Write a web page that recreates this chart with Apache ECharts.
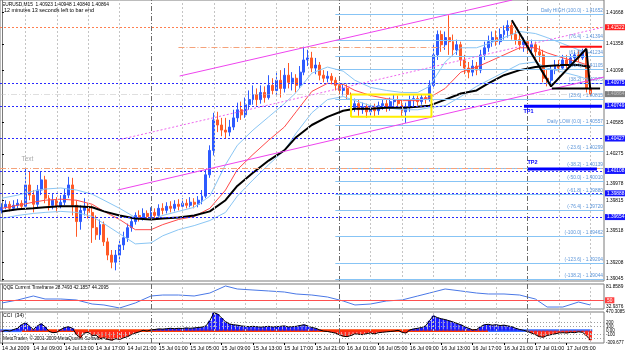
<!DOCTYPE html>
<html><head><meta charset="utf-8">
<script src="https://cdn.jsdelivr.net/npm/echarts@6.0.0/dist/echarts.min.js"></script>
<style>html,body{margin:0;padding:0;background:#fff;overflow:hidden}#chart{width:625px;height:352px}</style>
</head><body><div id="chart"></div>
<script>
// ---------------- DATA ----------------
const symbolName = 'EURUSD,M15';
const barOpen = [
1.3972,1.3975,1.3978,1.3974,1.3977,1.3979,1.3976,1.3997,1.3987,1.3978,
1.3992,1.4002,1.3984,1.3977,1.3982,1.3976,1.3980,1.3987,1.3997,1.3977,
1.3961,1.3972,1.3976,1.3970,1.3955,1.3948,1.3958,1.3941,1.3928,1.3921,
1.3928,1.3938,1.3945,1.3955,1.3961,1.3967,1.3964,1.3969,1.3966,1.3970,
1.3967,1.3974,1.3972,1.3976,1.3974,1.3978,1.3976,1.3979,1.3977,1.3980,
1.3978,1.3982,1.3986,1.4007,1.4031,1.4061,1.4056,1.4051,1.4049,1.4054,
1.4063,1.4071,1.4066,1.4076,1.4081,1.4086,1.4081,1.4088,1.4083,1.4095,
1.4090,1.4100,1.4092,1.4105,1.4098,1.4102,1.4095,1.4108,1.4120,1.4122,
1.4112,1.4115,1.4105,1.4102,1.4104,1.4100,1.4095,1.4090,1.4092,1.4086,
1.4073,1.4077,1.4071,1.4074,1.4069,1.4073,1.4070,1.4075,1.4077,1.4073,
1.4079,1.4081,1.4077,1.4069,1.4073,1.4081,1.4082,1.4079,1.4083,1.4081,
1.4095,1.4125,1.4145,1.4135,1.4142,1.4138,1.4130,1.4135,1.4120,1.4112,
1.4108,1.4114,1.4110,1.4125,1.4132,1.4138,1.4142,1.4138,1.4145,1.4149,
1.4154,1.4145,1.4140,1.4135,1.4138,1.4132,1.4135,1.4128,1.4125,1.4102,
1.4100,1.4110,1.4115,1.4112,1.4120,1.4116,1.4122,1.4125,1.4122,1.4128,
1.40923];
const barHigh = [
1.3979,1.3982,1.3981,1.3982,1.3983,1.3982,1.4014,1.4010,1.3992,1.3997,
1.4010,1.4006,1.3987,1.3988,1.3985,1.3987,1.3994,1.4005,1.4004,1.3982,
1.3977,1.3984,1.3979,1.3977,1.3967,1.3963,1.3961,1.3945,1.3933,1.3933,
1.3943,1.3951,1.3959,1.3964,1.3970,1.3972,1.3974,1.3972,1.3975,1.3974,
1.3978,1.3979,1.3980,1.3981,1.3982,1.3983,1.3984,1.3983,1.3985,1.3984,
1.3986,1.3992,1.4012,1.4036,1.4068,1.4069,1.4063,1.4063,1.4061,1.4071,
1.4078,1.4079,1.4083,1.4090,1.4095,1.4092,1.4095,1.4094,1.4105,1.4102,
1.4108,1.4110,1.4112,1.4117,1.4108,1.4106,1.4114,1.4133,1.4130,1.4128,
1.4122,1.4118,1.4110,1.4109,1.4107,1.4103,1.4098,1.4097,1.4096,1.4088,
1.4082,1.4081,1.4078,1.4077,1.4077,1.4077,1.4079,1.4081,1.4081,1.4083,
1.4086,1.4085,1.4081,1.4078,1.4085,1.4085,1.4085,1.4086,1.4085,1.4100,
1.4135,1.4149,1.4149,1.4148,1.4164,1.4145,1.4140,1.4138,1.4125,1.4118,
1.4120,1.4118,1.4130,1.4138,1.4144,1.4148,1.4149,1.4151,1.4154,1.4159,
1.4157,1.4149,1.4145,1.4142,1.4142,1.4140,1.4138,1.4134,1.4130,1.4110,
1.4115,1.4120,1.4120,1.4125,1.4125,1.4126,1.4128,1.4130,1.4131,1.4130,
1.40948];
const barLow = [
1.3969,1.3973,1.3971,1.3972,1.3974,1.3973,1.3974,1.3982,1.3970,1.3975,
1.3987,1.3979,1.3972,1.3973,1.3970,1.3974,1.3977,1.3984,1.3967,1.3946,
1.3953,1.3967,1.3964,1.3940,1.3943,1.3943,1.3937,1.3923,1.3915,1.3913,
1.3921,1.3933,1.3941,1.3951,1.3958,1.3961,1.3962,1.3963,1.3963,1.3964,
1.3964,1.3968,1.3969,1.3970,1.3971,1.3972,1.3973,1.3974,1.3975,1.3974,
1.3975,1.3978,1.3984,1.4004,1.4026,1.4049,1.4045,1.4043,1.4045,1.4051,
1.4059,1.4061,1.4063,1.4071,1.4076,1.4075,1.4077,1.4078,1.4081,1.4086,
1.4085,1.4083,1.4088,1.4092,1.4090,1.4088,1.4092,1.4105,1.4114,1.4108,
1.4106,1.4100,1.4098,1.4098,1.4096,1.4090,1.4086,1.4085,1.4081,1.4067,
1.4069,1.4065,1.4067,1.4063,1.4065,1.4064,1.4066,1.4071,1.4069,1.4070,
1.4075,1.4073,1.4065,1.4058,1.4069,1.4073,1.4075,1.4076,1.4077,1.4079,
1.4092,1.4120,1.4128,1.4130,1.4125,1.4124,1.4125,1.4114,1.4106,1.4102,
1.4104,1.4105,1.4107,1.4120,1.4128,1.4133,1.4134,1.4135,1.4140,1.4142,
1.4140,1.4135,1.4130,1.4128,1.4127,1.4125,1.4122,1.4118,1.4098,1.4094,
1.4095,1.4106,1.4108,1.4110,1.4112,1.4113,1.4118,1.4118,1.4120,1.4088,
1.40840];
const barClose = [
1.3975,1.3978,1.3974,1.3977,1.3979,1.3976,1.3997,1.3987,1.3978,1.3992,
1.4002,1.3984,1.3977,1.3982,1.3976,1.3980,1.3987,1.3997,1.3977,1.3961,
1.3972,1.3976,1.3970,1.3955,1.3948,1.3958,1.3941,1.3928,1.3921,1.3928,
1.3938,1.3945,1.3955,1.3961,1.3967,1.3964,1.3969,1.3966,1.3970,1.3967,
1.3974,1.3972,1.3976,1.3974,1.3978,1.3976,1.3979,1.3977,1.3980,1.3978,
1.3982,1.3986,1.4007,1.4031,1.4061,1.4056,1.4051,1.4049,1.4054,1.4063,
1.4071,1.4066,1.4076,1.4081,1.4086,1.4081,1.4088,1.4083,1.4095,1.4090,
1.4100,1.4092,1.4105,1.4098,1.4102,1.4095,1.4108,1.4120,1.4122,1.4112,
1.4115,1.4105,1.4102,1.4104,1.4100,1.4095,1.4090,1.4092,1.4086,1.4073,
1.4077,1.4071,1.4074,1.4069,1.4073,1.4070,1.4075,1.4077,1.4073,1.4079,
1.4081,1.4077,1.4069,1.4073,1.4081,1.4082,1.4079,1.4083,1.4081,1.4095,
1.4125,1.4145,1.4135,1.4142,1.4138,1.4130,1.4135,1.4120,1.4112,1.4108,
1.4114,1.4110,1.4125,1.4132,1.4138,1.4142,1.4138,1.4145,1.4149,1.4154,
1.4145,1.4140,1.4135,1.4138,1.4132,1.4135,1.4128,1.4125,1.4102,1.4100,
1.4110,1.4115,1.4112,1.4120,1.4116,1.4122,1.4125,1.4122,1.4128,1.4092,
1.40864];

// indicator samples (bar index -> value)
const maIdx = [0,4,8,11,15,19,23,26,30,34,38,41,45,49,53,57,60,64,68,72,75,79,83,87,90,94,98,102,106,109,113,117,121,124,128,132,136,139,143,147,150];
const maSlow = [1.3971,1.3973,1.3974,1.3975,1.3976,1.3976,1.3975,1.3971,1.3967,1.3964,1.3963,1.3964,1.3965,1.3967,1.3971,1.3982,1.3996,1.4009,1.4021,1.4031,1.4044,1.4056,1.4064,1.4070,1.4072,1.4072,1.4073,1.4073,1.4074,1.4075,1.4081,1.4087,1.4090,1.4097,1.4105,1.4110,1.4113,1.4114,1.4115,1.4115,1.4113];
const maMid = [1.3974,1.3977,1.3980,1.3982,1.3983,1.3982,1.3978,1.3971,1.3963,1.3953,1.3953,1.3958,1.3963,1.3966,1.3974,1.3992,1.4012,1.4027,1.4041,1.4054,1.4069,1.4089,1.4097,1.4096,1.4090,1.4085,1.4082,1.4080,1.4080,1.4083,1.4092,1.4108,1.4113,1.4118,1.4125,1.4132,1.4132,1.4127,1.4122,1.4118,1.4114];
const bandUp = [1.3984,1.3987,1.3991,1.3993,1.3994,1.3992,1.3988,1.3982,1.3974,1.3965,1.3963,1.3967,1.3971,1.3975,1.3986,1.4017,1.4036,1.4051,1.4064,1.4077,1.4088,1.4107,1.4113,1.4109,1.4100,1.4093,1.4090,1.4088,1.4088,1.4094,1.4118,1.4132,1.4132,1.4136,1.4142,1.4148,1.4146,1.4142,1.4136,1.4130,1.4127];
const bandDn = [1.3964,1.3967,1.3969,1.3970,1.3971,1.3970,1.3966,1.3959,1.3949,1.3939,1.3940,1.3947,1.3953,1.3957,1.3962,1.3970,1.3986,1.4002,1.4017,1.4031,1.4048,1.4068,1.4081,1.4084,1.4080,1.4075,1.4073,1.4071,1.4071,1.4073,1.4075,1.4084,1.4094,1.4100,1.4108,1.4116,1.4118,1.4112,1.4108,1.4104,1.4100];
const qqe = [44.7,50.6,58.4,52.5,52.5,50.6,42.7,40.8,34.9,44.7,58.4,60.3,60.3,58.4,64.2,78.0,72.1,70.1,68.2,66.2,62.3,60.3,56.4,48.6,40.8,42.7,48.6,50.6,58.4,64.2,72.1,68.2,64.2,62.3,62.3,60.3,52.5,36.8,36.8,46.6,40.8];
const cci = [-20,10,-10,30,60,150,200,120,
30,
120,175,100,-20,-50,-40,30,80,100,60,-100,-175,-60,-40,-120,
-115,
-200,-180,-220,-240,-200,-220,-180,-150,-100,-60,-30,10,-10,20,30,
45,
40,50,60,50,60,55,70,60,70,80,90,120,250,450,420,320,
225,
170,150,140,120,110,100,110,100,90,100,110,95,100,110,120,
95,
100,110,130,150,120,80,60,20,-10,-20,-40,-60,-100,-140,-150,
-120,
-80,-90,-100,-70,-60,-80,-50,-40,-30,-20,-10,10,-40,-60,20,
45,
60,80,120,250,375,330,300,280,250,220,180,150,100,60,20,30,
100,
150,160,140,150,130,140,120,100,60,30,10,-20,-60,-100,-150,
-165,
-120,-100,-80,-60,-50,-60,-40,-50,-30,-40,-120,-240];
const cciBlueBand = [[-0.5,5],[124,150.5]];
const cciRedBand = [[5,124]];

// axis ticks
const xTickPos = [0,8,16,24,32,40,48,56,64,72,80,88,96,104,112,120,128,136,144];
const xTickLabels = ['14 Jul 2009','14 Jul 09:00','14 Jul 13:00','14 Jul 17:00','14 Jul 21:00','15 Jul 01:00','15 Jul 05:00','15 Jul 09:00','15 Jul 13:00','15 Jul 17:00','15 Jul 21:00','16 Jul 01:00','16 Jul 05:00','16 Jul 09:00','16 Jul 13:00','16 Jul 17:00','16 Jul 21:00','17 Jul 01:00','17 Jul 05:00'];
const gridLinePos = [6,14,22,30,46,54,62,70,78,94,102,110,118,126,142,150];
const daySepPos = [38,86,134];
const yTicks = [1.41668,1.41358,1.41098,1.40585,1.40275,1.39978,1.39815,1.39518,1.39208,1.39045];
const qqeTicks = [81.8589,32.9376];
const cciTicks = [470.3085,200,100,0,-100,-309.677];

// levels / objects (price units, bar-index units)
const fibNames = ['Daily HIGH (100.0)','(76.4)','(61.8)','(50.0)','(38.2)','(23.6)','Daily LOW (0.0)','(-23.6)','(-38.2)','(-50.0)','(-61.8)','(-76.4)','(-100.0)','(-123.6)','(-138.2)'];
const fibPrices = [1.41652,1.41394,1.41234,1.41105,1.40975,1.40815,1.40557,1.40299,1.40139,1.40010,1.39880,1.39720,1.39462,1.39204,1.39044];
const fibStartBar = 85;
const blueLevels = [1.40975,1.40749,1.40427,1.40108,1.39888,1.39654];
const resistLevel = 1.41522;
const supportLevel = 1.40137;
const spikeLevel = [[45,1.41327],[113,1.41327]];
const bidPrice = 1.40864;
const askBoxPrice = 1.41197;
const chanUpper = [[45.3,1.41042],[130.1,1.4179]];
const chanLower = [[29.5,1.39920],[153.5,1.41032]];
const chanMid = [[29.5,1.40412],[153.5,1.41524]];
const zigzag = [[130,1.4159],[140,1.4094],[149,1.4131],[150,1.4091]];
const hLineBlack = [[140.2,1.4092],[152.5,1.4092]];
const hLineRed = [[142.3,1.4133],[153,1.4133]];
const tp1 = [[133.1,1.40745],[153,1.40745]];
const tp2 = [[134.1,1.40128],[151.7,1.40128]];
const yellowBox = [[89,1.4086],[109.5,1.4086],[109.5,1.4064],[89,1.4064],[89,1.4086]];
const textMark = [5.1,1.4022];

// ---------------- CHART ----------------
const FONT = 'Liberation Sans, Arial, sans-serif';
const SLOTS = 154;   // 151 bars + chart shift space
const barTimes = [];
(function(){ let t = Date.UTC(2009,6,14,5,0); for (let i=0;i<SLOTS;i++){ const d=new Date(t+i*1800000); barTimes.push(d.getUTCDate()+' Jul '+String(d.getUTCHours()).padStart(2,'0')+':'+String(d.getUTCMinutes()).padStart(2,'0')); } })();
const XMAX = SLOTS - 0.5;
const ml = o => Object.assign({symbol:['none','none'], silent:true, animation:false, precision:6}, o);
const noSym = {symbol:'none', showSymbol:false, silent:true, animation:false};
function gridLines(xi, yi){
  return [
    Object.assign({type:'line', xAxisIndex:xi, yAxisIndex:yi, data:[], z:1,
      markLine: ml({label:{show:false}, lineStyle:{color:'#c4c4c4', type:[2,2], width:1}, data: gridLinePos.map(x=>({xAxis:x}))})}, noSym),
    Object.assign({type:'line', xAxisIndex:xi, yAxisIndex:yi, data:[], z:1,
      markLine: ml({label:{show:false}, lineStyle:{color:'#6a6a6a', type:[5,2,1,2], width:1}, data: daySepPos.map(x=>({xAxis:x}))})}, noSym)
  ];
}
function pline(data, color, width, type, z, extra){
  return Object.assign({type:'line', xAxisIndex:1, yAxisIndex:0, data:data, z:z||5,
    lineStyle:{color:color, width:width, type:type||'solid'}}, noSym, extra||{});
}
const boxLabel = (bg, fg, txt) => ({show:true, position:'end', distance:1, formatter:txt, backgroundColor:bg, color:fg, padding:[1,2,0,2], fontSize:4.8, fontFamily:FONT});
const hidden = {color:'transparent', opacity:1};

const series = [];
series.push(...gridLines(1,0), ...gridLines(2,1), ...gridLines(4,2));

// fibonacci levels
series.push(Object.assign({type:'line', xAxisIndex:1, yAxisIndex:0, data:[], z:2,
  markLine: ml({lineStyle:{color:'#87c4f5', width:1, type:'solid'},
    label:{show:true, position:'insideEndTop', formatter:'{b}', color:'#5a94d8', fontSize:4.8, fontFamily:FONT, distance:1},
    data: fibPrices.map((p,i)=>[{name: fibNames[i]+' - '+p.toFixed(5), coord:[fibStartBar,p]},{coord:[XMAX,p]}])})}, noSym));
// blue dotted levels with boxes
series.push(Object.assign({type:'line', xAxisIndex:1, yAxisIndex:0, data:[], z:2,
  markLine: ml({lineStyle:{color:'#2a2aff', width:1, type:[2,2]},
    data: blueLevels.map(p=>({yAxis:p, label: boxLabel('#1515ff','#fff', p.toFixed(5))}))})}, noSym));
// salmon lines, bid, ask box
series.push(Object.assign({type:'line', xAxisIndex:1, yAxisIndex:0, data:[], z:2,
  markLine: ml({data:[
    {yAxis:resistLevel, lineStyle:{color:'#ff7f50', width:1, type:[2,2]}, label: boxLabel('#ff2020','#fff', resistLevel.toFixed(5))},
    {yAxis:supportLevel, lineStyle:{color:'#f5a27a', width:1, type:[6,2,1,2]}, label:{show:false}},
    [{coord:spikeLevel[0], lineStyle:{color:'#f5a27a', width:1, type:[6,2,1,2]}, label:{show:false}},{coord:spikeLevel[1]}],
    {yAxis:bidPrice, lineStyle:{color:'#c0c0c0', width:1, type:[6,2,1,2], opacity:0.5}, label: boxLabel('#000','#fff', bidPrice.toFixed(5))},
    {yAxis:askBoxPrice, lineStyle:{opacity:0}, label: boxLabel('#8ccdf5','#fff', askBoxPrice.toFixed(5))}
  ]})}, noSym));

// candles
series.push({type:'candlestick', xAxisIndex:0, yAxisIndex:0, z:3, silent:true, animation:false,
  barWidth:'62%', barMaxWidth:3,
  itemStyle:{color:'#2d5bff', color0:'#ff5a26', borderColor:'#2d5bff', borderColor0:'#ff5a26', borderWidth:1},
  data: barOpen.map((o,i)=>[o, barClose[i], barLow[i], barHigh[i]])
});

// moving averages / bands
const pairs = arr => maIdx.map((x,k)=>[x, arr[k]]);
series.push(pline(pairs(bandUp), '#8ac6f4', 1, 'solid', 4));
series.push(pline(pairs(bandDn), '#8ac6f4', 1, 'solid', 4));
series.push(pline(pairs(maMid), '#ff4a4a', 1, 'solid', 4));
series.push(pline(pairs(maSlow), '#000000', 2, 'solid', 4));

// channels & drawn objects
series.push(pline(chanUpper, '#ee44ee', 1, 'solid', 5));
series.push(pline(chanLower, '#ee44ee', 1, 'solid', 5));
series.push(pline(chanMid, '#ee66ee', 1, [2,2], 5));
series.push(pline(yellowBox, '#ffee00', 2, 'solid', 6));
series.push(pline(zigzag, '#000000', 2, 'solid', 6));
series.push(pline(hLineBlack, '#000000', 2, 'solid', 6));
series.push(pline(hLineRed, '#ff1010', 2, 'solid', 6));
series.push(pline(tp1, '#0000ff', 3, 'solid', 6));
series.push(pline(tp2, '#0000ff', 3, 'solid', 6));
// text annotations anchored at data points
series.push({type:'scatter', xAxisIndex:1, yAxisIndex:0, z:7, silent:true, animation:false, symbolSize:1, itemStyle:hidden,
  data:[
    {value:tp1[0], label:{show:true, formatter:'TP1', position:[0,3], align:'left', verticalAlign:'top', color:'#0000ff', fontWeight:'bold', fontSize:5.5, fontFamily:FONT}},
    {value:tp2[0], label:{show:true, formatter:'TP2', position:[0,-3], align:'left', verticalAlign:'bottom', color:'#0000ff', fontWeight:'bold', fontSize:5.5, fontFamily:FONT}},
    {value:textMark, label:{show:true, formatter:'Text', position:[0,0], align:'left', verticalAlign:'middle', color:'#a8a8a8', fontSize:6.5, fontFamily:FONT}}
  ]});

// QQE
series.push(Object.assign({type:'line', xAxisIndex:2, yAxisIndex:1, z:4, data: maIdx.map((x,k)=>[x,qqe[k]]),
  lineStyle:{color:'#4a78e6', width:1},
  markLine: ml({data:[{yAxis:50, lineStyle:{color:'#ff5050', width:1, type:'solid'}, label: boxLabel('#ff4040','#fff','50')}]})}, noSym));

// CCI
series.push({type:'bar', xAxisIndex:3, yAxisIndex:2, z:3, silent:true, animation:false, barCategoryGap:'15%',
  data: cci.map(v=>({value:v, itemStyle:{color: v>=0 ? '#1a1aff' : '#ff2a1a'}}))});
series.push(Object.assign({type:'line', xAxisIndex:3, yAxisIndex:2, z:4, data:cci, lineStyle:{color:'#000', width:1}}, noSym));
series.push(Object.assign({type:'line', xAxisIndex:4, yAxisIndex:2, data:[], z:5,
  markLine: ml({label:{show:false}, lineStyle:{color:'#a0a0a0', width:1, type:[1,2]}, data:[{yAxis:200},{yAxis:100},{yAxis:-100},{yAxis:-200}]}),
  markArea:{silent:true, animation:false, data:[
    ...cciRedBand.map(s=>[{xAxis:s[0], yAxis:-35, itemStyle:{color:'#ff3c00'}},{xAxis:s[1], yAxis:35}]),
    ...cciBlueBand.map(s=>[{xAxis:s[0], yAxis:-35, itemStyle:{color:'#3a6cff'}},{xAxis:s[1], yAxis:35}])
  ]}}, noSym));

const gridBase = {left:0, width:604, show:true, borderColor:'#7a7a7a', borderWidth:1, backgroundColor:'#fff', outerBoundsMode:'none', containLabel:false};
const valX = gi => ({gridIndex:gi, type:'value', min:-0.5, max:XMAX, show:false, splitLine:{show:false}});
const smallLbl = {fontSize:4.8, color:'#000', margin:2, fontFamily:FONT};

const option = {
  animation:false,
  backgroundColor:'#ffffff',
  textStyle:{fontFamily:FONT},
  grid:[
    Object.assign({top:0, height:281}, gridBase),
    Object.assign({top:284, height:25}, gridBase),
    Object.assign({top:312, height:31}, gridBase)
  ],
  xAxis:[
    {gridIndex:0, type:'category', data:barTimes, show:false, boundaryGap:true},
    valX(0),
    valX(1),
    {gridIndex:2, type:'category', data:barTimes, show:false, boundaryGap:true},
    {gridIndex:2, type:'value', min:-0.5, max:XMAX, position:'bottom', splitLine:{show:false},
      axisLine:{show:false},
      axisTick:{show:true, length:2, customValues:xTickPos, lineStyle:{color:'#000'}},
      axisLabel:Object.assign({}, smallLbl, {customValues:xTickPos, showMinLabel:true, showMaxLabel:true, hideOverlap:false,
        formatter:v=>{const k=xTickPos.indexOf(Math.round(v)); return k>=0 ? xTickLabels[k] : '';}, align:'left', fontSize:5.3, margin:3})}
  ],
  yAxis:[
    {gridIndex:0, type:'value', position:'right', min:1.39025, max:1.4179, splitLine:{show:false},
      axisLine:{show:true, lineStyle:{color:'#7a7a7a'}},
      axisTick:{show:true, length:2, customValues:yTicks, lineStyle:{color:'#000'}},
      axisLabel:Object.assign({}, smallLbl, {customValues:yTicks, showMinLabel:true, showMaxLabel:true, formatter:v=>v.toFixed(5)})},
    {gridIndex:1, type:'value', position:'right', min:32.9376, max:81.8589, splitLine:{show:false},
      axisLine:{show:true, lineStyle:{color:'#7a7a7a'}}, axisTick:{show:false},
      axisLabel:Object.assign({}, smallLbl, {customValues:qqeTicks, showMinLabel:true, showMaxLabel:true,
        formatter:v=> v>60 ? '{t|'+v.toFixed(4)+'}' : '{b|'+v.toFixed(4)+'}',
        rich:{t:{fontSize:4.8, padding:[6,0,0,0]}, b:{fontSize:4.8, padding:[0,0,5,0]}}})},
    {gridIndex:2, type:'value', position:'right', min:-309.677, max:470.3085, splitLine:{show:false},
      axisLine:{show:true, lineStyle:{color:'#7a7a7a'}}, axisTick:{show:false},
      axisLabel:Object.assign({}, smallLbl, {customValues:cciTicks, showMinLabel:true, showMaxLabel:true, fontSize:4.5,
        formatter:v=> v===0 ? '0.00' : String(v)})}
  ],
  graphic:[
    {type:'text', x:2, y:2, silent:true, style:{text: symbolName+'  '+barOpen[150].toFixed(5)+' '+barHigh[150].toFixed(5)+' '+barLow[150].toFixed(5)+' '+barClose[150].toFixed(5), fontSize:4.8, fontFamily:FONT, fill:'#000', verticalAlign:'top'}},
    {type:'text', x:4, y:8.5, silent:true, style:{text:'12 minutes 13 seconds left to bar end', fontSize:5.4, fontFamily:FONT, fill:'#000', verticalAlign:'top'}},
    {type:'text', x:3, y:285, silent:true, style:{text:'QQE Current Timeframe 28.7493 42.1857 44.2095', fontSize:4.7, fontFamily:FONT, fill:'#000', verticalAlign:'top'}},
    {type:'text', x:3, y:313.5, silent:true, style:{text:'CCI  (34)', fontSize:5.2, fontFamily:FONT, fill:'#000', verticalAlign:'top'}},
    {type:'text', x:3, y:336.5, silent:true, style:{text:'MetaTrader, \u00a9 2001-2009 MetaQuotes Software Corp.', fontSize:4.7, fontFamily:FONT, fill:'#000', verticalAlign:'top'}}
  ],
  series: series
};
const chart = echarts.init(document.getElementById('chart'), null, {renderer:'canvas'});
chart.setOption(option);
</script>
</body></html>
